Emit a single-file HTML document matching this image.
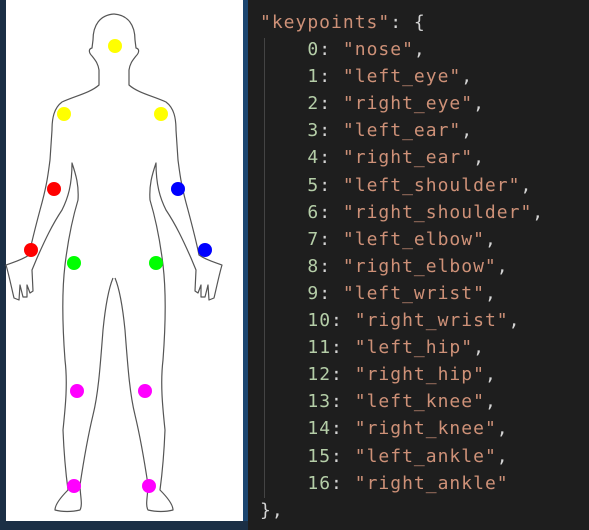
<!DOCTYPE html>
<html><head><style>
html,body{margin:0;padding:0;width:589px;height:530px;overflow:hidden;background:#1e1e1e;}
#l{position:absolute;left:0;top:0;width:6px;height:530px;background:#1b2f45;}
#w{position:absolute;left:6px;top:0;width:237px;height:521px;background:#fff;}
#s{position:absolute;left:243px;top:0;width:5px;height:530px;background:#1c4670;}
#b{position:absolute;left:0;top:521px;width:248px;height:9px;background:#1b2f45;}
#g{position:absolute;left:264px;top:38px;width:1px;height:460px;background:#444;}
pre{position:absolute;left:260px;top:9px;margin:0;font-family:"DejaVu Sans Mono","Liberation Mono",monospace;font-size:18px;letter-spacing:1px;line-height:27.1px;color:#d4d4d4;}
.s{color:#ce9178}.n{color:#b5cea8}
</style></head><body>
<div id="l"></div><div id="w"></div><div id="s"></div><div id="b"></div><div id="g"></div>
<svg style="position:absolute;left:0;top:0" width="248" height="530">
<g id="half" fill="none" stroke="#555" stroke-width="1.2" stroke-linejoin="round">
<path d="M114,14 C100,15 93,25 93,40 L92,48 C88,49 89,53 92,56 C95,60 98,63 99,70 L99,85 C90,93 75,96 62,102 C54,108 52,118 52,130 L50,160 C48,175 47,185 40,210 C36,225 32,240 29,255 C22,260 14,262 6,265 C9,275 12,290 14,298 L19,300 L20,285 L23,297 L27,297 L27,285 L30,293 L33,291 L32,270 L37,258 C45,240 52,225 62,210 C68,198 72,185 72,163 C76,175 79,185 78,200 C72,220 68,240 65,265 C62,290 62,320 65,360 C68,385 65,410 63,430 C64,455 66,475 68,490 C60,498 55,505 55,510 C62,512 72,512 80,510 C83,505 80,495 80,485 C83,465 87,440 93,415 C98,395 100,370 103,330 C105,310 108,290 113,278"/>
</g>
<use href="#half" transform="translate(228,0) scale(-1,1)"/>
<g>
<circle cx="115" cy="46" r="7" fill="#ff0"/>
<circle cx="64" cy="114" r="7" fill="#ff0"/>
<circle cx="161" cy="114" r="7" fill="#ff0"/>
<circle cx="54" cy="189" r="7" fill="#f00"/>
<circle cx="178" cy="189" r="7" fill="#00f"/>
<circle cx="31" cy="250" r="7" fill="#f00"/>
<circle cx="205" cy="250" r="7" fill="#00f"/>
<circle cx="74" cy="263" r="7" fill="#0f0"/>
<circle cx="156" cy="263" r="7" fill="#0f0"/>
<circle cx="77" cy="391" r="7" fill="#f0f"/>
<circle cx="145" cy="391" r="7" fill="#f0f"/>
<circle cx="74" cy="486" r="7" fill="#f0f"/>
<circle cx="149" cy="486" r="7" fill="#f0f"/>
</g>
</svg>
<pre><span class="s">"keypoints"</span>: {
    <span class="n">0</span>: <span class="s">"nose"</span>,
    <span class="n">1</span>: <span class="s">"left_eye"</span>,
    <span class="n">2</span>: <span class="s">"right_eye"</span>,
    <span class="n">3</span>: <span class="s">"left_ear"</span>,
    <span class="n">4</span>: <span class="s">"right_ear"</span>,
    <span class="n">5</span>: <span class="s">"left_shoulder"</span>,
    <span class="n">6</span>: <span class="s">"right_shoulder"</span>,
    <span class="n">7</span>: <span class="s">"left_elbow"</span>,
    <span class="n">8</span>: <span class="s">"right_elbow"</span>,
    <span class="n">9</span>: <span class="s">"left_wrist"</span>,
    <span class="n">10</span>: <span class="s">"right_wrist"</span>,
    <span class="n">11</span>: <span class="s">"left_hip"</span>,
    <span class="n">12</span>: <span class="s">"right_hip"</span>,
    <span class="n">13</span>: <span class="s">"left_knee"</span>,
    <span class="n">14</span>: <span class="s">"right_knee"</span>,
    <span class="n">15</span>: <span class="s">"left_ankle"</span>,
    <span class="n">16</span>: <span class="s">"right_ankle"</span>
},</pre>
</body></html>
